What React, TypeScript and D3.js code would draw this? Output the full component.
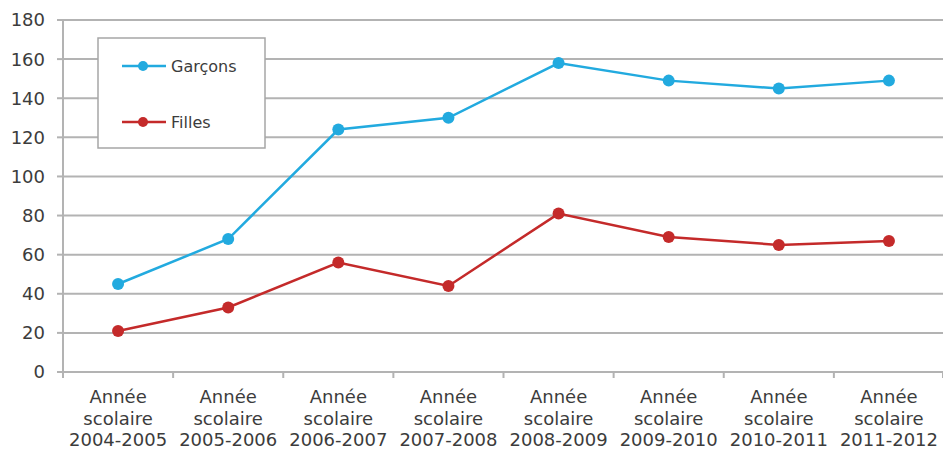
import React from "react";
import * as d3 from "d3";

const categories = [
  ["Année", "scolaire", "2004-2005"],
  ["Année", "scolaire", "2005-2006"],
  ["Année", "scolaire", "2006-2007"],
  ["Année", "scolaire", "2007-2008"],
  ["Année", "scolaire", "2008-2009"],
  ["Année", "scolaire", "2009-2010"],
  ["Année", "scolaire", "2010-2011"],
  ["Année", "scolaire", "2011-2012"],
];
const garcons = [45, 68, 124, 130, 158, 149, 145, 149];
const filles = [21, 33, 56, 44, 81, 69, 65, 67];
const yTicks = [0, 20, 40, 60, 80, 100, 120, 140, 160, 180];
const seriesNames = ["Garçons", "Filles"];
const colors = ["#22aadf", "#c42a2a"];

export default function App() {
  const W = 943, H = 451;
  const left = 63, right = 944, top = 20, bottom = 372;
  const x = d3.scaleBand<number>().domain(d3.range(categories.length)).range([left, right]);
  const y = d3.scaleLinear().domain([0, 180]).range([bottom, top]);
  const line = d3.line<number>().x((_, i) => x(i)! + x.bandwidth() / 2).y((d) => y(d));
  const font = "'DejaVu Sans', Verdana, sans-serif";
  const series = [garcons, filles];
  return (
    <svg width={W} height={H} style={{ position: "absolute", left: 0, top: 0 }} fontFamily={font}>
      <rect width={W} height={H} fill="#fff" />
      {yTicks.map((t) => (
        <g key={t}>
          {t > 0 && <line x1={left} x2={right} y1={y(t)} y2={y(t)} stroke="#b3b3b3" strokeWidth={2} />}
          <line x1={left - 6} x2={left} y1={y(t)} y2={y(t)} stroke="#b3b3b3" strokeWidth={2} />
          <text x={45} y={y(t)} dy="0.36em" textAnchor="end" fontSize={18} fill="#3c3c3c">{t}</text>
        </g>
      ))}
      <line x1={left} x2={left} y1={top} y2={bottom + 5} stroke="#b3b3b3" strokeWidth={2} />
      <line x1={left} x2={right} y1={bottom} y2={bottom} stroke="#b3b3b3" strokeWidth={2} />
      {d3.range(categories.length + 1).map((i) => {
        const xx = i < categories.length ? x(i)! : right - 1;
        return <line key={i} x1={xx} x2={xx} y1={bottom} y2={bottom + 6} stroke="#b3b3b3" strokeWidth={2} />;
      })}
      {categories.map((c, i) => (
        <text key={i} x={x(i)! + x.bandwidth() / 2} textAnchor="middle" fontSize={18} fill="#3c3c3c">
          {c.map((s, j) => (
            <tspan key={j} x={x(i)! + x.bandwidth() / 2} y={403 + j * 21.5}>{s}</tspan>
          ))}
        </text>
      ))}
      {series.map((s, k) => (
        <g key={k}>
          <path d={line(s)!} fill="none" stroke={colors[k]} strokeWidth={2.5} />
          {s.map((v, i) => (
            <circle key={i} cx={x(i)! + x.bandwidth() / 2} cy={y(v)} r={6} fill={colors[k]} />
          ))}
        </g>
      ))}
      <rect x={98} y={38} width={167} height={110} fill="#fff" stroke="#a6a6a6" strokeWidth={1.5} />
      {seriesNames.map((n, k) => {
        const ly = 66 + k * 56;
        return (
          <g key={n}>
            <line x1={122} x2={166} y1={ly} y2={ly} stroke={colors[k]} strokeWidth={2.5} />
            <circle cx={143} cy={ly} r={5} fill={colors[k]} />
            <text x={171} y={ly} dy="0.36em" fontSize={16} fill="#3c3c3c">{n}</text>
          </g>
        );
      })}
    </svg>
  );
}
